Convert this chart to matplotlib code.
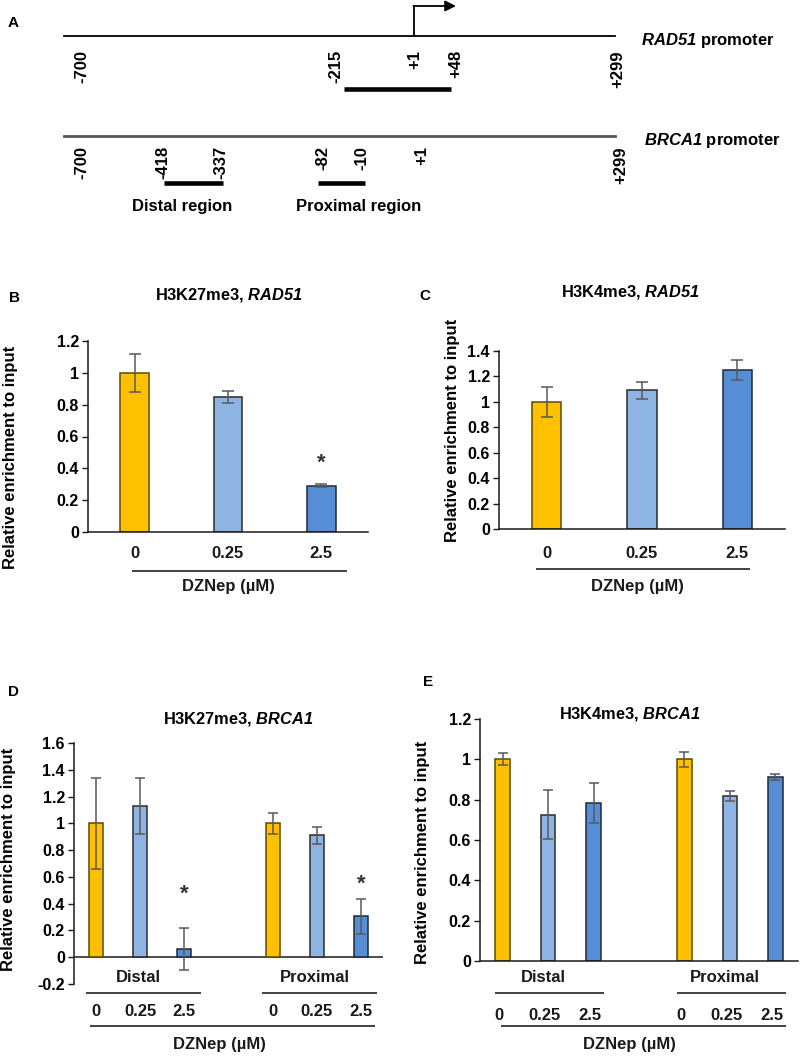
import matplotlib
matplotlib.use('Agg')
import matplotlib.pyplot as plt
from matplotlib.transforms import blended_transform_factory as btf
from matplotlib.ticker import FuncFormatter, MultipleLocator

plt.rcParams['font.family'] = ['Liberation Sans', 'DejaVu Sans']
plt.rcParams['font.weight'] = 'bold'
plt.rcParams['mathtext.fontset'] = 'custom'
plt.rcParams['mathtext.sf'] = 'Liberation Sans:italic:bold'
plt.rcParams['mathtext.it'] = 'Liberation Sans:italic:bold'
plt.rcParams['mathtext.rm'] = 'Liberation Sans:bold'
plt.rcParams['mathtext.bf'] = 'Liberation Sans:bold'

# ---------------- data ----------------
doses = ['0', '0.25', '2.5']
regions = ['Distal', 'Proximal']
dose_colors = ['#FFC000', '#8EB4E3', '#558ED5']
dose_edges = ['#5c4a00', '#2b2b2b', '#1f2a3a']

rad51_k27 = [1.0, 0.85, 0.29]
rad51_k27_err = [0.12, 0.037, 0.01]
rad51_k27_star = [None, None, 0.47]

rad51_k4 = [1.0, 1.09, 1.25]
rad51_k4_err = [0.12, 0.067, 0.08]

brca1_k27_distal = [1.0, 1.13, 0.06]
brca1_k27_distal_err = [0.34, 0.21, 0.155]
brca1_k27_prox = [1.0, 0.91, 0.307]
brca1_k27_prox_err = [0.078, 0.065, 0.13]
brca1_k27_star = [None, None, 0.516, None, None, 0.589]

brca1_k4_distal = [1.0, 0.726, 0.782]
brca1_k4_distal_err = [0.03, 0.12, 0.10]
brca1_k4_prox = [1.0, 0.817, 0.913]
brca1_k4_prox_err = [0.036, 0.025, 0.015]

# schematic (panel A): labels and schematic x positions (not to scale)
rad51_marks = ['-700', '-215', '+1', '+48', '+299']
rad51_mark_x = [82, 336, 415, 456, 618]
brca1_marks = ['-700', '-418', '-337', '-82', '-10', '+1', '+299']
brca1_mark_x = [82, 163, 221, 323, 362, 422, 621]

W, H = 800, 1056
fig = plt.figure(figsize=(W / 100, H / 100), dpi=100)

# overlay axes in pixel coordinates (origin top-left)
ov = fig.add_axes([0, 0, 1, 1])
ov.set_xlim(0, W)
ov.set_ylim(H, 0)
ov.axis('off')

AX_COL = '#1a1a1a'
ERR_COL = '#595959'


def gene(name):
    return r'$\mathsf{' + name + '}$'


def px_axes(left, top, right, bottom):
    return fig.add_axes([left / W, 1 - bottom / H, (right - left) / W, (bottom - top) / H])


def style_axes(ax, ymin, ymax, step, bottom_spine=True):
    ax.set_ylim(ymin, ymax)
    ax.yaxis.set_major_locator(MultipleLocator(step))
    ax.yaxis.set_major_formatter(FuncFormatter(lambda v, p: ('%g' % round(v, 2)).replace('\u2212', '-')))
    for s in ['top', 'right']:
        ax.spines[s].set_visible(False)
    ax.spines['left'].set_color(AX_COL)
    ax.spines['left'].set_linewidth(1.1)
    ax.spines['bottom'].set_color(AX_COL)
    ax.spines['bottom'].set_linewidth(1.1)
    if not bottom_spine:
        ax.spines['bottom'].set_visible(False)
    ax.set_xticks([])
    ax.tick_params(axis='y', direction='out', length=4, width=1, color=AX_COL,
                   labelsize=11.5, pad=2.5)
    for t in ax.get_yticklabels():
        t.set_fontweight('bold')
    ax.patch.set_alpha(0)


def bars(ax, xs, vals, errs, cols, edges, width, capsize):
    ax.bar(xs, vals, width=width, color=cols, edgecolor=edges, linewidth=1.1, zorder=2)
    ax.errorbar(xs, vals, yerr=errs, fmt='none', ecolor=ERR_COL, elinewidth=1.1,
                capsize=capsize, capthick=1.1, zorder=3)


def stars(ax, xs, ys):
    for x, y in zip(xs, ys):
        if y is not None:
            ax.annotate('*', xy=(x, y), xytext=(0, -8), textcoords='offset points',
                        ha='center', va='baseline', fontsize=16, color='#333333',
                        annotation_clip=False)


def under_text(ax, x, ypx, s, size=12):
    ax.text(x, ypx, s, transform=btf(ax.transData, ov.transData), ha='center', va='center',
            fontsize=size, fontweight='bold', color='#1a1a1a', clip_on=False)


def under_line(ax, x0, x1, ypx, lw=1.3):
    ax.plot([x0, x1], [ypx, ypx], transform=btf(ax.transData, ov.transData), color='#333333',
            lw=lw, clip_on=False, solid_capstyle='butt')


# ---------------- Panel A ----------------
ov.text(8, 23, 'A', fontsize=11, fontweight='bold', ha='left', va='center')
ov.plot([64, 615], [36, 36], color='black', lw=1.3)
ov.plot([414, 414], [36, 6], color='black', lw=1.3)
ov.annotate('', xy=(456, 6), xytext=(413.4, 6),
            arrowprops=dict(arrowstyle='-|>', lw=1.3, color='black', mutation_scale=16,
                            shrinkA=0, shrinkB=0))
ov.text(641, 40, gene('RAD51') + ' promoter', fontsize=12, ha='left', va='center')
for lab, x in zip(rad51_marks, rad51_mark_x):
    ov.text(x, 50, lab, rotation=90, ha='center', va='top', fontsize=12, fontweight='bold')
ov.plot([344, 451], [89, 89], color='black', lw=3.3, solid_capstyle='butt')

ov.plot([64, 615], [136, 136], color='#555555', lw=2.0)
ov.text(644, 140, gene('BRCA1') + ' promoter', fontsize=12, ha='left', va='center')
for lab, x in zip(brca1_marks, brca1_mark_x):
    ov.text(x, 146, lab, rotation=90, ha='center', va='top', fontsize=12, fontweight='bold')
ov.plot([164, 223], [183, 183], color='black', lw=3.3, solid_capstyle='butt')
ov.plot([318, 365], [183, 183], color='black', lw=3.3, solid_capstyle='butt')
ov.text(182, 206, 'Distal region', fontsize=12, ha='center', va='center', fontweight='bold')
ov.text(359, 206, 'Proximal region', fontsize=12, ha='center', va='center', fontweight='bold')

# ---------------- Panel B ----------------
xs3 = [0.5, 1.5, 2.5]
axB = px_axes(88, 341, 368, 532)
axB.set_xlim(0, 3)
style_axes(axB, 0, 1.2, 0.2)
bars(axB, xs3, rad51_k27, rad51_k27_err, dose_colors, dose_edges, 0.31, 4.5)
stars(axB, xs3, rad51_k27_star)
for x, d in zip(xs3, doses):
    under_text(axB, x, 553, d)
under_line(axB, 0.47, 2.77, 571)
under_text(axB, 1.5, 587, 'DZNep (µM)')
ov.text(9, 298, 'B', fontsize=11, fontweight='bold', ha='left', va='center')
ov.text(229, 295, 'H3K27me3, ' + gene('RAD51'), fontsize=11.8, ha='center', va='center')
ov.text(11, 457, 'Relative enrichment to input', rotation=90, fontsize=12,
        fontweight='bold', ha='center', va='center')

# ---------------- Panel C ----------------
axC = px_axes(499, 351, 785, 529)
axC.set_xlim(0, 3)
style_axes(axC, 0, 1.4, 0.2)
bars(axC, xs3, rad51_k4, rad51_k4_err, dose_colors, dose_edges, 0.31, 4.5)
for x, d in zip(xs3, doses):
    under_text(axC, x, 553, d)
under_line(axC, 0.39, 2.63, 569)
under_text(axC, 1.45, 587, 'DZNep (µM)')
ov.text(419, 296, 'C', fontsize=11, fontweight='bold', ha='left', va='center')
ov.text(630, 292, 'H3K4me3, ' + gene('RAD51'), fontsize=11.8, ha='center', va='center')
ov.text(452, 430, 'Relative enrichment to input', rotation=90, fontsize=12,
        fontweight='bold', ha='center', va='center')

# ---------------- Panel D ----------------
xs6 = [0.5, 1.5, 2.5, 4.5, 5.5, 6.5]
cols6 = dose_colors * 2
edges6 = dose_edges * 2
axD = px_axes(74, 743, 383, 984)
axD.set_xlim(0, 7)
style_axes(axD, -0.2, 1.6, 0.2, bottom_spine=False)
axD.axhline(0, color=AX_COL, lw=1.1, zorder=1)
bars(axD, xs6, brca1_k27_distal + brca1_k27_prox, brca1_k27_distal_err + brca1_k27_prox_err,
     cols6, edges6, 0.32, 3.5)
stars(axD, xs6, brca1_k27_star)
for g, reg in enumerate(regions):
    c = xs6[3 * g:3 * g + 3]
    under_text(axD, (c[0] + c[-1]) / 2 - 0.05, 977, reg)
    under_line(axD, c[0] - 0.23, c[-1] + 0.37, 993)
for x, d in zip(xs6, doses * 2):
    under_text(axD, x, 1012, d)
under_line(axD, 0.36, 6.83, 1026)
under_text(axD, 3.3, 1045, 'DZNep (µM)')
ov.text(8, 692, 'D', fontsize=11, fontweight='bold', ha='left', va='center')
ov.text(238, 719, 'H3K27me3, ' + gene('BRCA1'), fontsize=11.8, ha='center', va='center')
ov.text(9, 859, 'Relative enrichment to input', rotation=90, fontsize=12,
        fontweight='bold', ha='center', va='center')

# ---------------- Panel E ----------------
axE = px_axes(480, 719, 798, 961)
axE.set_xlim(0, 7)
style_axes(axE, 0, 1.2, 0.2)
bars(axE, xs6, brca1_k4_distal + brca1_k4_prox, brca1_k4_distal_err + brca1_k4_prox_err,
     cols6, edges6, 0.32, 3.5)
for g, reg in enumerate(regions):
    c = xs6[3 * g:3 * g + 3]
    under_text(axE, (c[0] + c[-1]) / 2 - 0.1, 978, reg)
    under_line(axE, c[0] - 0.17, c[-1] + 0.24, 993)
for x, d in zip(xs6, doses * 2):
    under_text(axE, x - 0.08, 1015, d)
under_line(axE, 0.46, 6.74, 1026)
under_text(axE, 3.3, 1045, 'DZNep (µM)')
ov.text(423, 682, 'E', fontsize=11, fontweight='bold', ha='left', va='center')
ov.text(630, 714, 'H3K4me3, ' + gene('BRCA1'), fontsize=11.8, ha='center', va='center')
ov.text(423, 852, 'Relative enrichment to input', rotation=90, fontsize=12,
        fontweight='bold', ha='center', va='center')

fig.savefig('out.png', dpi=100)
